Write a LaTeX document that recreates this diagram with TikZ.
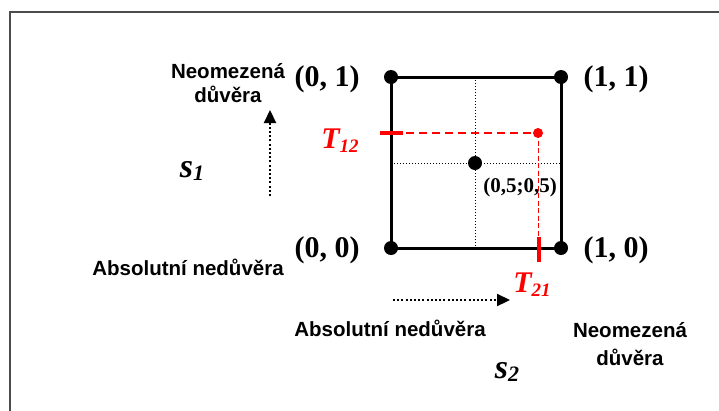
\documentclass[tikz,border=0pt]{standalone}
\usepackage{fontspec}
\setmainfont{Liberation Serif}
\setsansfont{Liberation Sans}
\usetikzlibrary{arrows.meta}
\tikzset{
  bod/.style={circle,fill=black,inner sep=0pt,minimum size=14pt},
  bodR/.style={circle,fill=red,inner sep=0pt,minimum size=10pt},
  roh/.style={anchor=base,font=\fontsize{30}{32}\selectfont\bfseries},
  popis/.style={anchor=base,align=center,font=\sffamily\bfseries\fontsize{20.5}{24}\selectfont},
  tlabel/.style={anchor=base,text=red,font=\fontsize{30}{32}\selectfont\bfseries\itshape},
  slabel/.style={anchor=base,font=\fontsize{34}{36}\selectfont\bfseries\itshape},
  tecky/.style={line width=2.2pt,dash pattern=on 2pt off 2.2pt},
  sipka/.style={tecky,-{Triangle[length=13pt,width=12pt]}},
}
\newcommand{\idx}[2]{#1\raisebox{-0.3ex}{\fontsize{19}{19}\selectfont #2}}
\newcommand{\sidx}[2]{#1\raisebox{-0.25ex}{\fontsize{22}{22}\selectfont #2}}
\begin{document}
\begin{tikzpicture}[x=1pt,y=-1pt]
  \useasboundingbox (0,0) rectangle (719,410);
  % ramecek
  \draw[line width=2pt,black!70] (9.5,412) -- (9.5,11.5) -- (721,11.5);
  % stredove osy
  \node[bod] (stred) at (475,163) {};
  \coordinate (osaN) at (475,77);
  \coordinate (osaS) at (475,248);
  \coordinate (osaW) at (391,163);
  \coordinate (osaE) at (561,163);
  \draw[line width=1pt,dash pattern=on 1.2pt off 1.8pt] (osaN) -- (osaS);
  \draw[line width=1pt,dash pattern=on 1.2pt off 1.8pt] (osaW) -- (osaE);
  \node[anchor=base,font=\fontsize{21}{22}\selectfont\bfseries] (stredL) at (520,192) {(0,5;0,5)};
  % ctverec
  \node[bod] (p01) at (391,77) {};
  \node[bod] (p11) at (561,77) {};
  \node[bod] (p00) at (391,248) {};
  \node[bod] (p10) at (561,248) {};
  \draw[line width=3pt] (p00.center) -- (p01.center) -- (p11.center) -- (p10.center) -- cycle;
  \node[roh] (l01) at (327,86) {(0, 1)};
  \node[roh] (l11) at (616,86) {(1, 1)};
  \node[roh] (l00) at (327,257) {(0, 0)};
  \node[roh] (l10) at (616,257) {(1, 0)};
  % bod T
  \node[bodR] (t) at (538,133) {};
  \coordinate (t12a) at (380,133);
  \coordinate (t12b) at (403,133);
  \coordinate (t21a) at (539,237);
  \coordinate (t21b) at (539,262);
  \draw[red,line width=1.3pt,dash pattern=on 8pt off 5pt] (t12a) -- (t.center);
  \draw[red,line width=1pt,dash pattern=on 5pt off 2.5pt] (t.center) -- (t.center |- t21b);
  \draw[red,line width=4pt] (t12a) -- (t12b);
  \draw[red,line width=3.5pt] (t21a) -- (t21b);
  \node[tlabel] (T12) at (340,148) {\idx{T}{12}};
  \node[tlabel] (T21) at (532,292) {\idx{T}{21}};
  % osa s1
  \node[popis] (s1top) at (228,102) {Neomezená\\důvěra};
  \node[popis] (s1bot) at (188,275) {Absolutní nedůvěra};
  \coordinate (s1a) at (270,196);
  \coordinate (s1b) at (270,110);
  \draw[sipka] (s1a) -- (s1b);
  \node[slabel] (s1) at (192,177) {\sidx{s}{1}};
  % osa s2
  \node[popis] (s2bot) at (390,336) {Absolutní nedůvěra};
  \node[popis] (s2top) at (630,365) {Neomezená\\[4pt]důvěra};
  \coordinate (s2a) at (393,300);
  \coordinate (s2b) at (510,300);
  \draw[sipka] (s2a) -- (s2b);
  \node[slabel] (s2) at (507,378) {\sidx{s}{2}};
\end{tikzpicture}
\end{document}
